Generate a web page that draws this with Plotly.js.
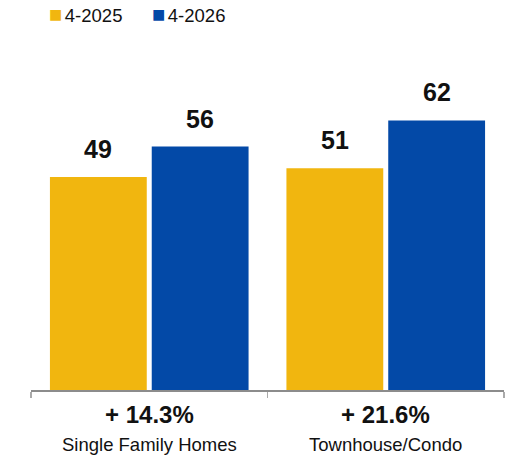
<!DOCTYPE html>
<html>
<head>
<meta charset="utf-8">
<script src="https://cdn.plot.ly/plotly-3.0.1.min.js"></script>
<style>html,body{margin:0;padding:0;background:#fff;}#chart{width:506px;height:455px;}</style>
</head>
<body>
<div id="chart"></div>
<script>
const categories = ["Single Family Homes", "Townhouse/Condo"];
const seriesNames = ["4-2025", "4-2026"];
const values2025 = [49, 51];
const values2026 = [56, 62];
const pctChange = ["+ 14.3%", "+ 21.6%"];

const colors = ["#F1B60F", "#0349A7"];
const FONT = "Liberation Sans, Arial, Helvetica, sans-serif";

const traces = [
  {type: "bar", name: seriesNames[0], x: categories, y: values2025, marker: {color: colors[0]}, hoverinfo: "x+y"},
  {type: "bar", name: seriesNames[1], x: categories, y: values2026, marker: {color: colors[1]}, hoverinfo: "x+y"}
];

const annotations = [];
const series = [values2025, values2026];
const shifts = [-51, 51];
series.forEach((vals, s) => {
  vals.forEach((v, i) => {
    annotations.push({
      x: categories[i], y: v, xref: "x", yref: "y",
      text: "<b>" + v + "</b>", showarrow: false,
      xshift: shifts[s], yanchor: "bottom", yshift: 12,
      font: {family: FONT, size: 25, color: "#111"}
    });
  });
});
categories.forEach((c, i) => {
  annotations.push({
    x: c, y: 0, xref: "x", yref: "y", text: "<b>" + pctChange[i] + "</b>",
    showarrow: false, yanchor: "middle", yshift: -24,
    font: {family: FONT, size: 24, color: "#111"}
  });
  annotations.push({
    x: c, y: 0, xref: "x", yref: "y", text: c,
    showarrow: false, yanchor: "middle", yshift: -54,
    font: {family: FONT, size: 18.5, color: "#111"}
  });
});
const legendX = [0.034, 0.252];
seriesNames.forEach((n, s) => {
  annotations.push({
    x: legendX[s], y: 1.074, xref: "paper", yref: "paper",
    xanchor: "left", yanchor: "middle", showarrow: false,
    text: '<span style="color:' + colors[s] + ';font-size:22px">■</span><span style="font-size:9px"> </span>' + n,
    font: {family: FONT, size: 18.5, color: "#111"}
  });
});

const layout = {
  width: 506, height: 455,
  margin: {l: 31, r: 2, t: 40, b: 65, pad: 0},
  paper_bgcolor: "#fff", plot_bgcolor: "#fff",
  showlegend: false,
  barmode: "group", bargap: 0.139, bargroupgap: 0.049,
  font: {family: FONT, color: "#111"},
  xaxis: {
    type: "category", showline: true, linecolor: "#8c8c8c", linewidth: 1.5,
    ticks: "outside", tickson: "boundaries", ticklen: 6, tickcolor: "#aaa", tickwidth: 1.5,
    showticklabels: false, showgrid: false, zeroline: false, fixedrange: true
  },
  yaxis: {range: [0, 80.5], visible: false, showgrid: false, zeroline: false, fixedrange: true},
  annotations: annotations
};

Plotly.newPlot("chart", traces, layout, {displayModeBar: false, staticPlot: true});
</script>
</body>
</html>
